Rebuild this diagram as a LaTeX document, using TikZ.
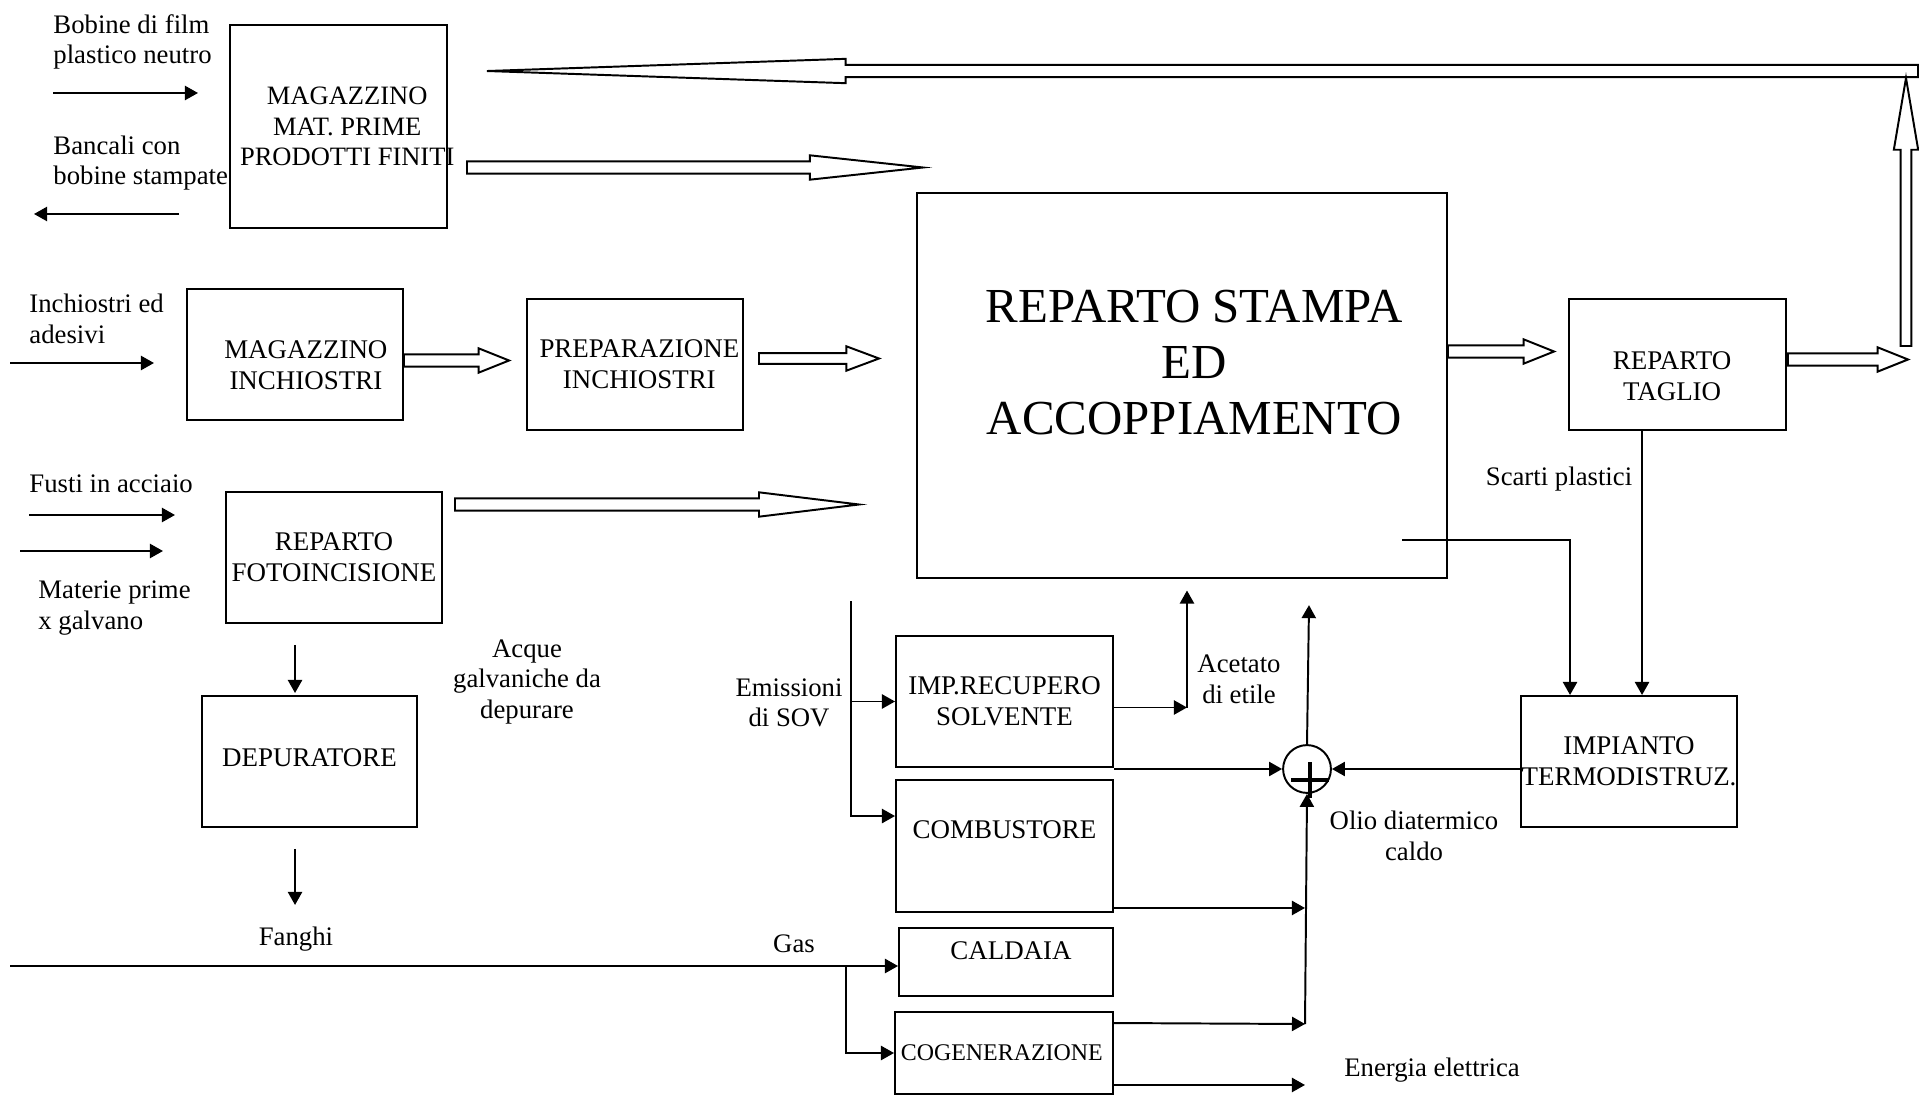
\documentclass[tikz,border=0pt]{standalone}
\usepackage{fontspec}
\setmainfont{Liberation Serif}
\usetikzlibrary{arrows.meta,calc,fit}

\tikzset{
  box/.style={draw, line width=0.9pt, inner sep=0pt},
  lbl/.style={inner sep=0pt, align=center, font=\fontsize{12.3}{14.1}\selectfont},
  boxtxt/.style={lbl, font=\fontsize{12.4}{14.1}\selectfont},
  flow/.style={line width=0.9pt, -{Triangle[length=6pt,width=6.5pt]}},
  hollow/.style={draw, line width=0.9pt, line join=miter},
}

% block arrow: [shaft half width] start, tip, head length
\newcommand{\blockarrow}[4][2.8pt]{%
  \coordinate (hb) at ($(#3)!#4!(#2)$);
  \draw[hollow] ($(#2)!#1!90:(#3)$) -- ($(hb)!#1!90:(#3)$)
    -- ($(hb)!5.6pt!90:(#3)$) -- (#3) -- ($(hb)!5.6pt!-90:(#3)$)
    -- ($(hb)!#1!-90:(#3)$) -- ($(#2)!#1!-90:(#3)$) -- cycle;
}

\begin{document}
\begin{tikzpicture}[x=0.46pt, y=-0.46pt]
\useasboundingbox (0,0) rectangle (1919,1096);

% blocks
\node[box, fit={(230,25)(447,228)}, label={[boxtxt,xshift=4pt,font=\fontsize{12.2}{14.1}\selectfont]center:MAGAZZINO\\MAT. PRIME\\PRODOTTI FINITI}] (magmp) {};
\node[box, fit={(187,289)(403,420)}, label={[boxtxt,xshift=5pt,yshift=-5pt]center:MAGAZZINO\\INCHIOSTRI}] (maginch) {};
\node[box, fit={(527,299)(743,430)}, label={[boxtxt,xshift=2pt]center:PREPARAZIONE\\INCHIOSTRI}] (prep) {};
\node[box, fit={(917,193)(1447,578)}, label={[lbl,xshift=5.6pt,yshift=10.6pt,font=\fontsize{22.5}{25.8}\selectfont]center:REPARTO STAMPA\\ED\\ACCOPPIAMENTO}] (stampa) {};
\node[box, fit={(1569,299)(1786,430)}, label={[boxtxt,xshift=-2.5pt,yshift=-5.5pt]center:REPARTO\\TAGLIO}] (taglio) {};
\node[box, fit={(226,492)(442,623)}, label={[boxtxt]center:REPARTO\\FOTOINCISIONE}] (foto) {};
\node[box, fit={(202,696)(417,827)}, label={[boxtxt,yshift=1.8pt]center:DEPURATORE}] (depur) {};
\node[box, fit={(896,636)(1113,767)}, label={[boxtxt]center:IMP.RECUPERO\\SOLVENTE}] (recup) {};
\node[box, fit={(896,780)(1113,912)}, label={[boxtxt,yshift=7.4pt]center:COMBUSTORE}] (combu) {};
\node[box, fit={(899,928)(1113,996)}, label={[boxtxt,xshift=2.3pt,yshift=5pt]center:CALDAIA}] (caldaia) {};
\node[box, fit={(895,1012)(1113,1094)}, label={[boxtxt,xshift=-1pt,font=\fontsize{11}{13}\selectfont]center:COGENERAZIONE}] (cogen) {};
\node[box, fit={(1521,696)(1737,827)}, label={[boxtxt]center:IMPIANTO\\TERMODISTRUZ.}] (termo) {};
\node[draw, circle, line width=0.9pt, minimum size=22pt, inner sep=0pt] (plus) at (1307,769) {};
\draw[line width=1.9pt] ($(plus)+(-16,11)$) -- ($(plus)+(22,11)$)
  ($(plus)+(3,-7)$) -- ($(plus)+(3,29)$);

% labels
\node[lbl, anchor=west, align=left] (bobine) at (53,42) {Bobine di film\\plastico neutro};
\node[lbl, anchor=west, align=left] (bancali) at (53,163) {Bancali con\\bobine stampate};
\node[lbl, anchor=west, align=left] (inch) at (29,319) {Inchiostri ed\\adesivi};
\node[lbl, anchor=west] (fusti) at (29,484) {Fusti in acciaio};
\node[lbl, anchor=west, align=left] (materie) at (38,608) {Materie prime\\x galvano};
\node[lbl] (acque) at (527,682) {Acque\\galvaniche da\\depurare};
\node[lbl] (fanghi) at (296,939) {Fanghi};
\node[lbl] (gas) at (794,944) {Gas};
\node[lbl] (emiss) at (789,703) {Emissioni\\di SOV};
\node[lbl] (acetato) at (1239,679) {Acetato\\di etile};
\node[lbl] (olio) at (1414,836) {Olio diatermico\\caldo};
\node[lbl] (scarti) at (1559,479) {Scarti plastici};
\node[lbl] (energia) at (1432,1070) {Energia elettrica};

% block arrows
\coordinate (r2) at ($(magmp.north east)+(39,47)$);
\coordinate (r1) at ($(r2)+(1431,0)$);
\blockarrow{r1}{r2}{165pt}
\coordinate (u1) at ($(r1)+(-12,275)$);
\coordinate (u2) at ($(r1)+(-12,7)$);
\blockarrow[2.5pt]{u1}{u2}{33pt}
\coordinate (m1) at ($(magmp.east)+(19,41)$);
\coordinate (m2) at ($(m1)+(456,0)$);
\blockarrow{m1}{m2}{52pt}
\coordinate (i1) at ($(maginch.east)+(0,6)$);
\coordinate (i2) at ($(prep.west)+(-17,-4)$);
\blockarrow{i1}{i2}{14pt}
\coordinate (p1) at ($(prep.east)+(15,-6)$);
\coordinate (p2) at ($(stampa.west)+(-37,-27)$);
\blockarrow[2.5pt]{p1}{p2}{15pt}
\coordinate (f1) at ($(foto.east)+(12,-53)$);
\coordinate (f2) at ($(f1)+(404,0)$);
\blockarrow{f1}{f2}{46pt}
\coordinate (s1) at ($(stampa.east)+(0,-34)$);
\coordinate (s2) at ($(taglio.west)+(-14,-13)$);
\blockarrow{s1}{s2}{14pt}
\coordinate (t1) at ($(taglio.east)+(1,-5)$);
\coordinate (t2) at ($(t1)+(120,0)$);
\blockarrow{t1}{t2}{14pt}

% input / output arrows
\draw[flow] ($(bobine.west)+(0,51)$) -- ++(145,0);
\draw[flow] ($(bancali.west)+(126,51)$) -- ++(-145,0);
\draw[flow] ($(inch.west)+(-19,44)$) -- ++(144,0);
\draw[flow] ($(fusti.west)+(0,31)$) -- ++(146,0);
\draw[flow] ($(materie.west)+(-18,-57)$) -- ++(143,0);
\draw[flow] ($(foto.south west)+(70,21)$) -- ($(depur.north west)+(94,-2)$);
\draw[flow] ($(depur.south west)+(94,21)$) -- ++(0,56);

% gas
\coordinate (gasin) at (10,966);
\draw[flow] (gasin) -- (gasin -| caldaia.west);
\draw[flow] ($(gasin)+(836,0)$) |- (cogen.west);

% emissions
\coordinate (em) at (851,601);
\draw[flow] (em) |- ($(combu.north west)+(0,37)$);
\draw[flow] (em |- recup.west) -- (recup.west);
\draw[flow] ($(recup.east)+(0,6)$) -- ++(73,0);
\draw[flow] ($(recup.east)+(73,6)$) -- ++(0,-117);

% hot oil
\coordinate (col) at (1305,1024);
\draw[flow] (plus.west -| recup.east) -- (plus.west);
\draw[flow] (termo.west |- plus.east) -- (plus.east);
\draw[flow] ($(combu.south east)+(0,-5)$) -- ++(191,0);
\draw[flow] ($(cogen.north east)+(0,12)$) -- (col);
\draw[flow] ($(cogen.south east)+(0,-10)$) -- ++(191,0);
\draw[flow] (col) -- (plus.south);
\draw[flow] (plus.north) -- ++(2,-139);

% waste
\draw[flow] ($(stampa.south east)+(-46,-39)$) -| ($(termo.north west)+(50,0)$);
\draw[flow] ($(taglio.south west)+(74,0)$) -- ($(termo.north west)+(122,0)$);

\end{tikzpicture}
\end{document}
